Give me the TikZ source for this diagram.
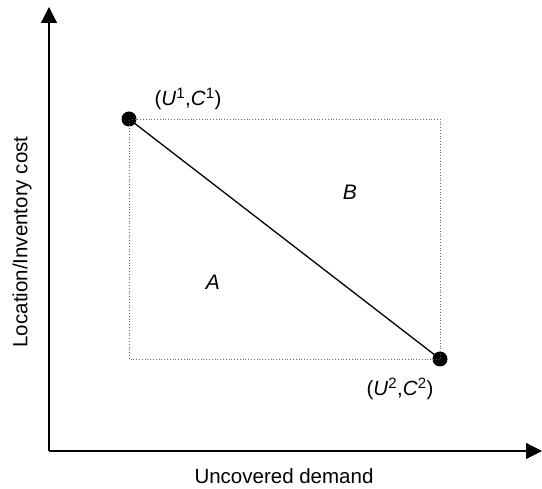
\documentclass[tikz,border=0pt]{standalone}
\usepackage{fontspec}
\setmainfont{Liberation Sans}
\usetikzlibrary{arrows.meta}
\begin{document}
\begin{tikzpicture}[x=1pt,y=-1pt,
  axis/.style={line width=1.2pt,-{Triangle[length=16pt,width=16pt]}},
  dot/.style={circle,fill=black,inner sep=0pt,minimum size=15pt},
  lbl/.style={font=\fontsize{20.5}{24}\selectfont,inner sep=0pt},
  region/.style={font=\fontsize{21}{24}\selectfont\itshape,inner sep=0pt}]
\useasboundingbox (0,0) rectangle (542,489);
\coordinate (o) at (49,451);
\coordinate (ytop) at (49,7);
\coordinate (xend) at (542,451);
\draw[axis] (o) -- (ytop);
\draw[axis] (o) -- (xend);
\node[dot] (p1) at (129,119) {};
\node[dot] (p2) at (440,359) {};
\coordinate (c1) at (440,119);
\coordinate (c2) at (129,359);
\draw[dotted,line width=0.8pt,gray!80!black] (p1.center) -- (c1) -- (p2.center) -- (c2) -- cycle;
\draw[line width=1.3pt] (p1.center) -- (p2.center);
\node[lbl] (l1) at (188,99) {(\textit{U}\textsuperscript{\fontsize{15}{15}\selectfont 1},\textit{C}\textsuperscript{\fontsize{15}{15}\selectfont 1})};
\node[lbl] (l2) at (400,389) {(\textit{U}\textsuperscript{\fontsize{15}{15}\selectfont 2},\textit{C}\textsuperscript{\fontsize{15}{15}\selectfont 2})};
\node[region] (a) at (213,282) {A};
\node[region] (b) at (350,192) {B};
\node[lbl] (xl) at (284,476) {Uncovered demand};
\node[lbl,rotate=90] (yl) at (22,242) {Location/Inventory cost};
\end{tikzpicture}
\end{document}
